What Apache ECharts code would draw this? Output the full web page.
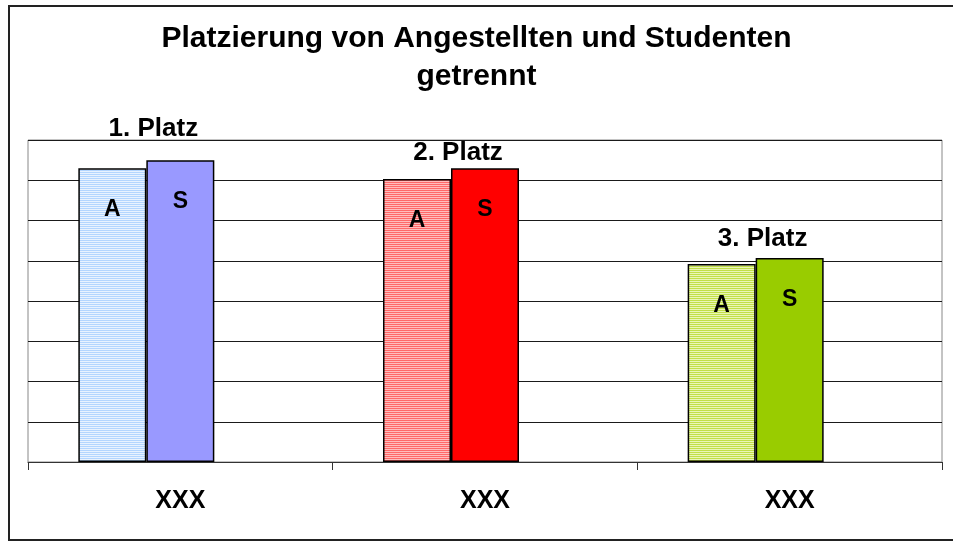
<!DOCTYPE html>
<html>
<head>
<meta charset="utf-8">
<script src="https://cdn.jsdelivr.net/npm/echarts@6/dist/echarts.min.js"></script>
<style>
  html, body { margin: 0; padding: 0; background: #fff; }
  #chart { width: 953px; height: 544px; }
</style>
</head>
<body>
<div id="chart"></div>
<script>
const categories = ['XXX', 'XXX', 'XXX']
const angestellte = [7.3, 7.03, 4.92]
const studenten = [7.5, 7.3, 5.07]
const platzLabels = ['1. Platz', '2. Platz', '3. Platz']
const platzValues = [8.27, 7.68, 5.55]
const yTicks = [0, 1, 2, 3, 4, 5, 6, 7, 8]

const yMax = yTicks[yTicks.length - 1]

// striped fill like the Excel pattern
function stripes(c1, c2) {
  const cv = document.createElement('canvas')
  cv.width = 4
  cv.height = 2
  const ctx = cv.getContext('2d')
  ctx.fillStyle = c1
  ctx.fillRect(0, 0, 4, 1)
  ctx.fillStyle = c2
  ctx.fillRect(0, 1, 4, 1)
  return { image: cv, repeat: 'repeat' }
}

const aColors = [
  stripes('#b3d6ff', '#e8f3ff'),
  stripes('#ff6868', '#ffbcbc'),
  stripes('#c2df48', '#eaf6b6'),
]
const sColors = ['#9999ff', '#ff0000', '#99cc00']

const barLabel = {
  show: true,
  position: 'insideTop',
  distance: 30,
  color: '#000',
  fontSize: 23,
  fontWeight: 'bold',
  fontFamily: 'Liberation Sans',
}

const myChart = echarts.init(document.getElementById('chart'))

function getOption(unitPx) {
  return {
    animation: false,
    textStyle: { fontFamily: 'Liberation Sans' },
    title: {
      text: 'Platzierung von Angestellten und Studenten\ngetrennt',
      left: 'center',
      top: 15,
      textStyle: {
        fontSize: 30,
        fontWeight: 'bold',
        color: '#000',
        lineHeight: 38,
        fontFamily: 'Liberation Sans',
      },
    },
    graphic: [
      {
        type: 'rect',
        shape: { x: 9, y: 6, width: 960, height: 534 },
        style: { fill: 'none', stroke: '#222', lineWidth: 2 },
        silent: true,
      },
    ],
    grid: {
      left: 28,
      right: 11,
      top: 140,
      bottom: 82,
      show: true,
      borderColor: '#888',
      borderWidth: 1,
    },
    xAxis: {
      type: 'category',
      data: categories,
      axisLine: { show: true, lineStyle: { color: '#333', width: 1 } },
      axisTick: { show: true, length: 8, lineStyle: { color: '#333' } },
      axisLabel: {
        margin: 27,
        color: '#000',
        fontSize: 25,
        fontWeight: 'bold',
        fontFamily: 'Liberation Sans',
      },
    },
    yAxis: {
      type: 'value',
      min: yTicks[0],
      max: yMax,
      interval: 1,
      axisLabel: { show: false },
      axisLine: { show: false },
      axisTick: { show: false },
      splitLine: { show: true, lineStyle: { color: '#1a1a1a', width: 1 } },
    },
    series: [
      {
        name: 'A',
        type: 'bar',
        barWidth: 68,
        barGap: '0%',
        itemStyle: { borderColor: '#000', borderWidth: 1.5 },
        label: { ...barLabel, formatter: 'A' },
        data: angestellte.map((v, i) => ({ value: v, itemStyle: { color: aColors[i] } })),
      },
      {
        name: 'S',
        type: 'bar',
        barWidth: 68,
        barGap: '0%',
        itemStyle: { borderColor: '#000', borderWidth: 1.5 },
        label: { ...barLabel, formatter: 'S' },
        data: studenten.map((v, i) => ({ value: v, itemStyle: { color: sColors[i] } })),
        markPoint: {
          symbol: 'circle',
          symbolSize: 0,
          data: platzLabels.map((t, i) => {
            // values above the axis max are pinned to max and shifted by the axis scale
            const v = Math.min(platzValues[i], yMax)
            return {
              name: t,
              coord: [i, v],
              label: {
                show: true,
                position: 'inside',
                offset: [-27, -(platzValues[i] - v) * unitPx],
                color: '#000',
                fontSize: 26,
                fontWeight: 'bold',
                fontFamily: 'Liberation Sans',
                formatter: t,
              },
            }
          }),
        },
      },
      {
        name: 'leer',
        type: 'bar',
        barWidth: 68,
        barGap: '0%',
        data: ['-', '-', '-'],
      },
    ],
  }
}

myChart.setOption(getOption(0))
const unitPx = myChart.convertToPixel({ yAxisIndex: 0 }, 0) - myChart.convertToPixel({ yAxisIndex: 0 }, 1)
myChart.setOption(getOption(unitPx))
</script>
</body>
</html>
